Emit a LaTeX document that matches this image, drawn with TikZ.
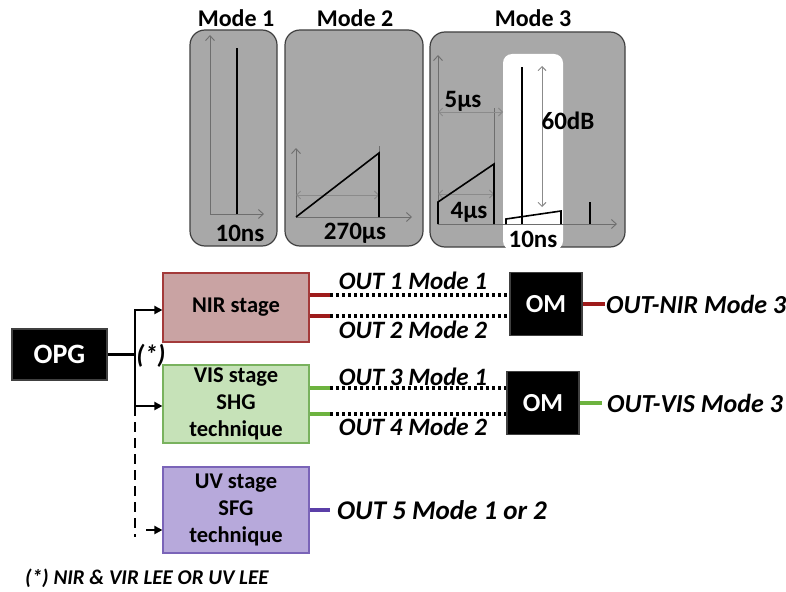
\documentclass[tikz,border=0pt]{standalone}
\usepackage{fontspec}
\setmainfont{Carlito}
\usetikzlibrary{arrows.meta}
\definecolor{PanelGray}{HTML}{A8A8A8}
\definecolor{PanelEdge}{HTML}{404040}
\definecolor{AxisGray}{HTML}{6E6E6E}
\definecolor{NirFill}{HTML}{C9A3A3}
\definecolor{NirEdge}{HTML}{A33A3A}
\definecolor{NirLine}{HTML}{9E1B1B}
\definecolor{VisFill}{HTML}{C6E2B8}
\definecolor{VisEdge}{HTML}{79B25E}
\definecolor{VisLine}{HTML}{6DB33F}
\definecolor{UvFill}{HTML}{B7A9DB}
\definecolor{UvEdge}{HTML}{7A64B8}
\definecolor{UvLine}{HTML}{5B3FA8}
\tikzset{
  panel/.style={fill=PanelGray,draw=PanelEdge,line width=1.2pt,rounded corners=15pt},
  axis/.style={AxisGray,line width=0.9pt,-{Straight Barb[length=5pt,width=9pt]}},
  span/.style={AxisGray!80,line width=0.9pt,{Straight Barb[length=4pt,width=8pt]}-{Straight Barb[length=4pt,width=8pt]}},
  pulse/.style={black,line width=2pt},
  ttl/.style={font=\bfseries\fontsize{24}{25}\selectfont,inner sep=0pt},
  lbl/.style={font=\bfseries\fontsize{25}{26}\selectfont,inner sep=0pt},
  stagebox/.style={draw,line width=1.2pt,minimum width=146pt,align=center,inner sep=0pt,font=\bfseries\fontsize{22.5}{27}\selectfont},
  blackbox/.style={fill=black,draw=PanelEdge,line width=1.2pt,text=white,font=\bfseries\fontsize{26}{28}\selectfont},
  outlbl/.style={font=\bfseries\itshape\fontsize{25}{26}\selectfont,inner sep=0pt},
  biglbl/.style={font=\bfseries\itshape\fontsize{26}{27}\selectfont,inner sep=0pt},
  feed/.style={line width=2.6pt,-{Triangle[length=8pt,width=8pt]}},
  dots/.style={line width=4pt,dash pattern=on 3pt off 3pt}
}
\begin{document}
\begin{tikzpicture}[x=1pt,y=-1pt]
  \useasboundingbox (0,0) rectangle (786,591);

  % pulse panels
  \node[ttl] (t1) at (236,18) {Mode 1};
  \node[ttl] (t2) at (355,18) {Mode 2};
  \node[ttl] (t3) at (533,18) {Mode 3};
  \draw[panel] (190,30) rectangle (277,246);
  \draw[panel] (285,30) rectangle (423,246);
  \draw[panel] (430,32) rectangle (625,247);
  \fill[white,rounded corners=9pt] (503,54) rectangle (563,250);

  % mode 1
  \draw[axis] (210,214) -- (210,35);
  \draw[axis] (210,214) -- (264,214);
  \draw[pulse] (237,214) -- (237,48);
  \node[lbl] (n1) at (240,233) {10ns};

  % mode 2
  \draw[axis] (296,217) -- (296,148);
  \draw[axis] (296,217) -- (412,217);
  \draw[AxisGray,line width=0.7pt] (379,153) -- (379,146);
  \draw[span] (296,195) -- (379,195);
  \draw[pulse,line width=1.6pt] (296,217) -- (379,153) -- (379,217);
  \node[lbl] (n2) at (355,233) {270µs};

  % mode 3
  \draw[axis] (438,224) -- (438,55);
  \draw[axis] (438,224) -- (617,224);
  \draw[AxisGray,line width=0.7pt] (494,164) -- (494,108);
  \draw[span] (438,112) -- (503,112);
  \draw[span] (438,194) -- (494,194);
  \draw[pulse,line width=1.6pt] (438,224) -- (438,202) -- (494,164) -- (494,224);
  \draw[pulse,line width=1.6pt] (506,224) -- (506,219) -- (561,211) -- (561,224);
  \draw[pulse] (522,224) -- (522,67);
  \draw[pulse] (590,224) -- (590,202);
  \draw[span] (542,66) -- (542,207);
  \node[lbl] (l5) at (463,101) {5µs};
  \node[lbl] (l4) at (469,212) {4µs};
  \node[lbl] (ldb) at (568,121) {60dB};
  \node[lbl] (n3) at (533,239) {10ns};

  % block diagram
  \node[blackbox,minimum width=95pt,minimum height=51pt,font=\bfseries\fontsize{28}{30}\selectfont] (opg) at (59.5,354.5) {OPG};
  \node[stagebox,fill=NirFill,draw=NirEdge,minimum height=69pt] (nir) at (236,307.5) {NIR stage};
  \node[stagebox,fill=VisFill,draw=VisEdge,minimum height=78pt] (vis) at (236,404) {VIS stage\\SHG\\technique};
  \node[stagebox,fill=UvFill,draw=UvEdge,minimum height=86pt] (uv) at (236,510) {UV stage\\SFG\\technique};
  \node[blackbox,minimum width=72pt,minimum height=63pt] (om1) at (546,304) {OM};
  \node[blackbox,minimum width=72pt,minimum height=63pt] (om2) at (543,403) {OM};

  \coordinate (split) at (135,354.5);
  \draw[line width=2.6pt] (opg.east) -- (split);
  \draw[feed] (split) |- (nir.west |- 0,310);
  \draw[feed] (split) |- (vis.west |- 0,406);
  \draw[line width=2.6pt,dash pattern=on 10pt off 6pt] (split |- 0,406) -- (split |- 0,537);
  \draw[feed] (146,530) -- (uv.west |- 0,530);
  \node[biglbl] (star) at (151,356) {(*)};

  % NIR outputs
  \draw[NirLine,line width=3.5pt] (nir.east |- 0,295) -- (330,295);
  \draw[NirLine,line width=3.5pt] (nir.east |- 0,316) -- (330,316);
  \draw[dots] (330,295) -- (om1.west |- 0,295);
  \draw[dots] (330,316) -- (om1.west |- 0,316);
  \node[outlbl] (o1) at (413,281) {OUT 1 Mode 1};
  \node[outlbl] (o2) at (413,330) {OUT 2 Mode 2};
  \draw[NirLine,line width=3.5pt] (om1.east) -- (605,304);
  \node[biglbl,anchor=west] (onir) at (606,304) {OUT-NIR Mode 3};

  % VIS outputs
  \draw[VisLine,line width=3.5pt] (vis.east |- 0,388) -- (330,388);
  \draw[VisLine,line width=3.5pt] (vis.east |- 0,414) -- (330,414);
  \draw[dots] (330,388) -- (om2.west |- 0,388);
  \draw[dots] (330,414) -- (om2.west |- 0,414);
  \node[outlbl] (o3) at (413,377) {OUT 3 Mode 1};
  \node[outlbl] (o4) at (413,427) {OUT 4 Mode 2};
  \draw[VisLine,line width=3.5pt] (om2.east) -- (602,403);
  \node[biglbl,anchor=west] (ovis) at (607,403) {OUT-VIS Mode 3};

  % UV output
  \draw[UvLine,line width=3.5pt] (uv.east |- 0,510) -- (330,510);
  \node[biglbl,anchor=west,font=\bfseries\itshape\fontsize{27}{28}\selectfont] (o5) at (337,510) {OUT 5 Mode 1 or 2};

  \node[outlbl,anchor=west,font=\bfseries\itshape\fontsize{21}{22}\selectfont] (note) at (25,578) {(*) NIR \& VIR LEE OR UV LEE};
\end{tikzpicture}
\end{document}
